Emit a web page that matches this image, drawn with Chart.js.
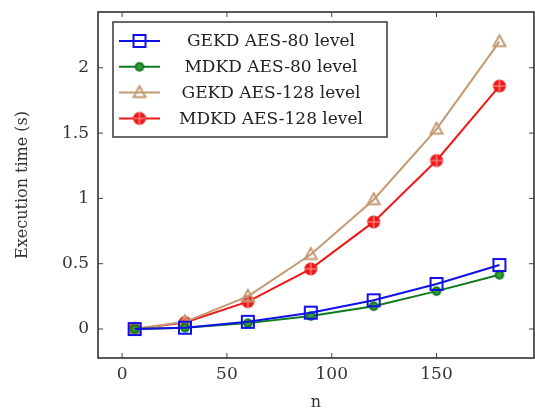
<!DOCTYPE html>
<html>
<head>
<meta charset="utf-8">
<script src="https://cdn.jsdelivr.net/npm/chart.js@4.4.1/dist/chart.umd.min.js"></script>
<style>
  html, body { margin: 0; padding: 0; background: #fff; }
  #wrap { width: 535px; height: 412px; }
</style>
</head>
<body>
<div id="wrap"><canvas id="chart" width="535" height="412"></canvas></div>
<script>
// values
const nValues = [6, 30, 60, 90, 120, 150, 180];
const gekd80 = [0, 0.01, 0.055, 0.125, 0.22, 0.345, 0.49];
const mdkd80 = [0, 0.01, 0.045, 0.10, 0.175, 0.29, 0.415];
const gekd128 = [0, 0.055, 0.25, 0.57, 0.99, 1.53, 2.20];
const mdkd128 = [0, 0.05, 0.21, 0.46, 0.82, 1.29, 1.86];
const seriesNames = ["GEKD AES-80 level", "MDKD AES-80 level", "GEKD AES-128 level", "MDKD AES-128 level"];
const xTicks = [0, 50, 100, 150];
const yTicks = [0, 0.5, 1, 1.5, 2];

const FONT = "'DejaVu Serif', 'Liberation Serif', serif";

// pgfplots-like marks drawn on small canvases
function makeMarker(shape, color) {
  const s = 18;
  const c = document.createElement("canvas");
  c.width = s; c.height = s;
  const g = c.getContext("2d");
  const m = s / 2;
  g.strokeStyle = color;
  g.fillStyle = color;
  g.lineWidth = 2;
  if (shape === "square") {
    g.strokeRect(m - 6, m - 6, 12, 12);
  } else if (shape === "dot") {
    g.beginPath();
    g.arc(m, m, 3.8, 0, Math.PI * 2);
    g.fillStyle = "#3a9a3a";
    g.fill();
    g.stroke();
  } else if (shape === "triangle") {
    g.beginPath();
    g.moveTo(m, m - 6.5);
    g.lineTo(m + 6, m + 4.5);
    g.lineTo(m - 6, m + 4.5);
    g.closePath();
    g.stroke();
  } else if (shape === "oplus") {
    g.beginPath();
    g.arc(m, m, 6.5, 0, Math.PI * 2);
    g.fill();
    g.strokeStyle = "#ff9a9a";
    g.lineWidth = 1.2;
    g.beginPath();
    g.moveTo(m - 6, m); g.lineTo(m + 6, m);
    g.moveTo(m, m - 6); g.lineTo(m, m + 6);
    g.stroke();
  }
  return c;
}

const colors = ["#1010e8", "#0e7a1e", "#c39a72", "#f01818"];
const markers = [
  makeMarker("square", colors[0]),
  makeMarker("dot", colors[1]),
  makeMarker("triangle", colors[2]),
  makeMarker("oplus", colors[3])
];
const seriesValues = [gekd80, mdkd80, gekd128, mdkd128];

function toPoints(ys) {
  return nValues.map((n, i) => ({ x: n, y: ys[i] }));
}

// frame, inward ticks and boxed legend
const framePlugin = {
  id: "frame",
  afterDraw(chart) {
    const ctx = chart.ctx;
    const a = chart.chartArea;
    const xs = chart.scales.x, ys = chart.scales.y;
    ctx.save();
    ctx.strokeStyle = "#444";
    ctx.lineWidth = 1;
    xTicks.forEach(v => {
      const px = xs.getPixelForValue(v);
      ctx.beginPath();
      ctx.moveTo(px, a.bottom); ctx.lineTo(px, a.bottom - 5);
      ctx.moveTo(px, a.top); ctx.lineTo(px, a.top + 5);
      ctx.stroke();
    });
    yTicks.forEach(v => {
      const py = ys.getPixelForValue(v);
      ctx.beginPath();
      ctx.moveTo(a.left, py); ctx.lineTo(a.left + 5, py);
      ctx.moveTo(a.right, py); ctx.lineTo(a.right - 5, py);
      ctx.stroke();
    });
    ctx.strokeStyle = "#333";
    ctx.lineWidth = 1.6;
    ctx.strokeRect(a.left, a.top, a.right - a.left, a.bottom - a.top);

    // legend
    const bx = a.left + 15, by = a.top + 10, bw = 274, bh = 115;
    ctx.fillStyle = "#fff";
    ctx.fillRect(bx, by, bw, bh);
    ctx.strokeStyle = "#444";
    ctx.lineWidth = 1.6;
    ctx.strokeRect(bx, by, bw, bh);
    ctx.font = "17px " + FONT;
    ctx.textAlign = "center";
    ctx.textBaseline = "middle";
    seriesNames.forEach((name, i) => {
      const y = by + 19 + i * 25.8;
      ctx.strokeStyle = colors[i];
      ctx.lineWidth = 2;
      ctx.beginPath();
      ctx.moveTo(bx + 6, y); ctx.lineTo(bx + 47, y);
      ctx.stroke();
      const mk = markers[i];
      ctx.drawImage(mk, bx + 26.5 - mk.width / 2, y - mk.height / 2);
      ctx.fillStyle = "#222";
      ctx.fillText(name, bx + 158, y + 1);
    });
    ctx.restore();
  }
};

new Chart(document.getElementById("chart"), {
  type: "line",
  data: {
    datasets: seriesNames.map((name, i) => ({
      label: name,
      data: toPoints(seriesValues[i]),
      borderColor: colors[i],
      backgroundColor: colors[i],
      borderWidth: 2,
      pointStyle: markers[i],
      pointRadius: 6,
      tension: 0,
      fill: false
    }))
  },
  options: {
    responsive: false,
    animation: false,
    layout: { autoPadding: false, padding: { top: 12, right: 1, left: 0, bottom: 0 } },
    plugins: {
      legend: { display: false },
      tooltip: { enabled: false }
    },
    scales: {
      x: {
        type: "linear",
        min: -11.5,
        max: 196.5,
        grid: { display: false, drawTicks: false },
        border: { display: false },
        afterBuildTicks: s => { s.ticks = xTicks.map(v => ({ value: v })); },
        afterFit: s => { s.height = 54; s.paddingLeft = 0; s.paddingRight = 0; },
        ticks: {
          color: "#333",
          padding: 6,
          font: { family: FONT, size: 17 },
          callback: v => String(v)
        },
        title: {
          display: true,
          text: "n",
          color: "#333",
          padding: { top: 0, bottom: 0 },
          font: { family: FONT, size: 16 }
        }
      },
      y: {
        type: "linear",
        min: -0.222,
        max: 2.427,
        grid: { display: false, drawTicks: false },
        border: { display: false },
        afterBuildTicks: s => { s.ticks = yTicks.map(v => ({ value: v })); },
        afterFit: s => { s.width = 98; s.paddingTop = 0; s.paddingBottom = 0; },
        ticks: {
          color: "#333",
          padding: 9,
          font: { family: FONT, size: 17 },
          callback: v => String(v)
        },
        title: {
          display: true,
          text: "Execution time (s)",
          color: "#333",
          padding: { top: 13, bottom: 0 },
          font: { family: FONT, size: 16 }
        }
      }
    }
  },
  plugins: [framePlugin]
});
</script>
</body>
</html>
